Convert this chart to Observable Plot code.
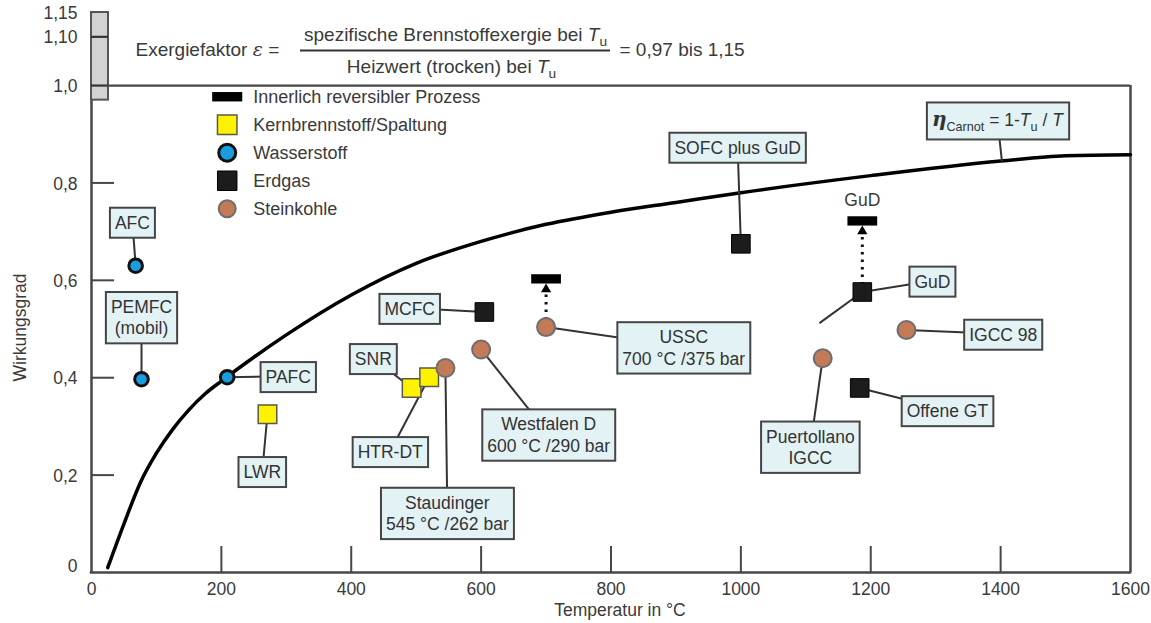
<!DOCTYPE html>
<html>
<head>
<meta charset="utf-8">
<script src="https://cdn.jsdelivr.net/npm/d3@7"></script>
<script src="https://cdn.jsdelivr.net/npm/@observablehq/plot@0.6"></script>
<style>
  html, body { margin: 0; padding: 0; background: #fff; }
</style>
</head>
<body>
<div id="chart"></div>
<script>
// ---------- data ----------
// Technologies: operating temperature (°C) and efficiency
const techNames = ["AFC", "PEMFC\n(mobil)", "PAFC", "LWR", "SNR", "HTR-DT",
  "Staudinger\n545 °C /262 bar", "Westfalen D\n600 °C /290 bar", "USSC\n700 °C /375 bar",
  "MCFC", "SOFC plus GuD", "GuD", "Offene GT", "IGCC 98", "Puertollano\nIGCC"];
const techTemp = [68, 77, 209, 271, 493, 520, 545, 600, 700, 605, 1000, 1187, 1183, 1255, 1126];
const techEff = [0.63, 0.397, 0.401, 0.325, 0.379, 0.401, 0.42, 0.458, 0.504, 0.535, 0.675, 0.576, 0.379, 0.498, 0.44];
const techFuel = ["Wasserstoff", "Wasserstoff", "Wasserstoff", "Kernbrennstoff", "Kernbrennstoff", "Kernbrennstoff",
  "Steinkohle", "Steinkohle", "Steinkohle", "Erdgas", "Erdgas", "Erdgas", "Erdgas", "Steinkohle", "Steinkohle"];

// Where each callout box sits (temperature, efficiency)
const calloutTemp = [63, 77, 303, 263, 434, 460, 548, 704, 912, 490, 995, 1295, 1318, 1404, 1107];
const calloutEff = [0.72, 0.525, 0.403, 0.208, 0.44, 0.249, 0.123, 0.284, 0.463, 0.543, 0.874, 0.599, 0.333, 0.49, 0.259];

// Internally reversible process limits above USSC and GuD
const revTemp = [700, 1187];
const revEff = [0.603, 0.722];
const revFrom = [0.504, 0.576];
const revTag = ["", "GuD"];

// Carnot efficiency curve
const carnotTemp = [25, 50, 75, 100, 125, 150, 175, 200, 250, 300, 400, 500, 600, 700, 800, 900, 1000, 1200, 1400, 1500, 1600];
const carnotEff = [0.01, 0.1, 0.184, 0.245, 0.294, 0.334, 0.367, 0.393, 0.442, 0.488, 0.57, 0.635, 0.68, 0.715, 0.74, 0.76, 0.78, 0.815, 0.845, 0.856, 0.858];
const carnotLabel = "*η*_{Carnot} = 1-*T*_{u} / *T*";
const carnotLabelAt = [1395, 0.93];
const carnotLabelHook = [1402, 0.845];

// Extra leader stub below the GuD point
const gudStub = [[1187, 0.576], [1121, 0.512]];

// Exergy factor range
const exergyRange = [0.97, 1.15];

// Axes
const xTicks = [0, 200, 400, 600, 800, 1000, 1200, 1400, 1600];
const xInnerTicks = [200, 400, 600, 800, 1000, 1200, 1400];
const yTickValues = [0, 0.2, 0.4, 0.6, 0.8, 1.0, 1.1, 1.15];
const yTickLabels = ["0", "0,2", "0,4", "0,6", "0,8", "1,0", "1,10", "1,15"];
const yInnerTicks = [0.2, 0.4, 0.6, 0.8];
const xTitle = "Temperatur in °C";
const yTitle = "Wirkungsgrad";

// Formula at the top
const formulaLead = "Exergiefaktor *ε* =";
const formulaNum = "spezifische Brennstoffexergie bei *T*_{u}";
const formulaDen = "Heizwert (trocken) bei *T*_{u}";
const formulaTail = "= 0,97 bis 1,15";

// Legend
const legendKeys = ["rev", "Kernbrennstoff", "Wasserstoff", "Erdgas", "Steinkohle"];
const legendNames = ["Innerlich reversibler Prozess", "Kernbrennstoff/Spaltung", "Wasserstoff", "Erdgas", "Steinkohle"];

// ---------- layout & style ----------
const W = 1151, H = 623;
const mL = 91, mR = 21, mT = 12, mB = 51;
const frameW = W - mL - mR, frameH = H - mT - mB;
const FONT = "'Liberation Sans', Arial, sans-serif";
const INK = "#3a3a3a";
const AXIS = "#474747";

const fuelStyle = {
  Kernbrennstoff: {symbol: "square", fill: "#fff200", stroke: "#5a5a48", strokeWidth: 1.5, r: 10.5},
  Wasserstoff: {symbol: "circle", fill: "#1a9ddf", stroke: "#111", strokeWidth: 3, r: 6.8},
  Erdgas: {symbol: "square", fill: "#1c1c1c", stroke: "#000", strokeWidth: 1, r: 10.5},
  Steinkohle: {symbol: "circle", fill: "#c27a57", stroke: "#6e6e6e", strokeWidth: 2, r: 9}
};

// black bar glyph for the reversible-process limit
const barSymbol = {
  draw(context, size) {
    const r = Math.sqrt(size / Math.PI);
    context.rect(-1.6 * r, -0.5 * r, 3.2 * r, r);
  }
};

// ---------- tables ----------
const tech = techNames.map((name, i) => ({
  name, T: techTemp[i], eta: techEff[i], fuel: techFuel[i], lx: calloutTemp[i], ly: calloutEff[i]
}));
const rev = revTemp.map((T, i) => ({T, eta: revEff[i], from: revFrom[i], tag: revTag[i]}));
const carnot = carnotTemp.map((T, i) => ({T, eta: carnotEff[i]}));
const callouts = [
  ...tech.map(d => ({text: d.name, x: d.lx, y: d.ly})),
  {text: carnotLabel, x: carnotLabelAt[0], y: carnotLabelAt[1]}
];
const leaders = [
  ...tech.map(d => ({x1: d.T, y1: d.eta, x2: d.lx, y2: d.ly})),
  {x1: carnotLabelHook[0], y1: carnotLabelHook[1], x2: carnotLabelAt[0], y2: carnotLabelAt[1]},
  {x1: gudStub[0][0], y1: gudStub[0][1], x2: gudStub[1][0], y2: gudStub[1][1]}
];
const legendTop = 0.977, legendStep = 0.0575, legendX = 209;
const legend = legendKeys.map((key, i) => ({key, name: legendNames[i], x: legendX, y: legendTop - i * legendStep}));
const yTicks = yTickValues.map((v, i) => ({v, label: yTickLabels[i]}));

const fuelDots = Object.keys(fuelStyle).map(f =>
  Plot.dot(tech.filter(d => d.fuel === f), {x: "T", y: "eta", ...fuelStyle[f]})
);
const legendDots = Object.keys(fuelStyle).map(f =>
  Plot.dot(legend.filter(d => d.key === f), {x: "x", y: "y", ...fuelStyle[f],
    r: fuelStyle[f].symbol === "square" ? 11 : 8.5})
);
const topText = {frameAnchor: "top-left", lineAnchor: "middle", fontSize: 19, fill: INK, text: d => d};

const svg = Plot.plot({
  width: W, height: H,
  marginLeft: mL, marginRight: mR, marginTop: mT, marginBottom: mB,
  style: {fontFamily: FONT, fontSize: "17.5px", color: INK, background: "#fff", overflow: "visible"},
  x: {domain: [0, 1600], axis: null},
  y: {domain: [0, 1.15], axis: null},
  marks: [
    // frame
    Plot.ruleY([1], {x1: 0, x2: 1600, stroke: AXIS, strokeWidth: 2.2}),
    Plot.ruleY([0], {x1: 0, x2: 1600, stroke: AXIS, strokeWidth: 2.5, strokeLinecap: "square"}),
    Plot.ruleX([0], {y1: 0, y2: 1.15, stroke: AXIS, strokeWidth: 2.5}),
    Plot.ruleX([1600], {y1: 0, y2: 1, stroke: AXIS, strokeWidth: 2.5}),
    // inward ticks
    Plot.ruleX(xInnerTicks, {x: d => d, stroke: AXIS, strokeWidth: 2, insetTop: frameH - 26}),
    Plot.ruleY(yInnerTicks, {y: d => d, stroke: AXIS, strokeWidth: 2, insetRight: frameW - 23}),
    // exergy-factor band
    Plot.rect([exergyRange], {y1: d => d[0], y2: d => d[1], insetRight: frameW - 17,
      fill: "#d2d2d2", stroke: "#555", strokeWidth: 2}),
    Plot.ruleY([1, 1.1], {y: d => d, insetRight: frameW - 17, stroke: "#333", strokeWidth: 2.2}),

    // Carnot curve
    Plot.line(carnot, {x: "T", y: "eta", curve: "monotone-x", stroke: "#000", strokeWidth: 3.5}),

    // leader lines
    Plot.link(leaders, {x1: "x1", y1: "y1", x2: "x2", y2: "y2", stroke: "#333", strokeWidth: 2}),
    // dotted rise to the reversible limit
    Plot.link(rev, {x1: "T", y1: "from", x2: "T", y2: "eta", stroke: "#111",
      strokeWidth: 3, strokeDasharray: "2.5,5"}),

    ...fuelDots,

    // reversible limits: bar + arrow head
    Plot.dot(rev, {x: "T", y: "eta", symbol: barSymbol, r: 9.3, fill: "#000"}),
    Plot.dot(rev, {x: "T", y: "eta", symbol: "triangle", r: 3.8, fill: "#000", dy: 10.5}),
    Plot.text(rev.filter(d => d.tag), {x: "T", y: "eta", text: "tag", dy: -21, fill: INK}),

    // legend
    Plot.dot(legend.filter(d => d.key === "rev"), {x: "x", y: "y", symbol: barSymbol, r: 9.4, fill: "#000"}),
    ...legendDots,
    Plot.text(legend, {x: "x", y: "y", text: "name", textAnchor: "start", dx: 26, fontSize: 18, fill: INK}),

    // tick labels
    Plot.text(xTicks, {x: d => d, y: 0, text: d => String(d), dy: 17, fill: INK}),
    Plot.text(yTicks.filter(d => d.v > 0), {x: 0, y: "v", text: "label", textAnchor: "end", dx: -14, dy: 1, fill: INK}),
    Plot.text(yTicks.filter(d => d.v === 0), {x: 0, y: "v", text: "label", textAnchor: "end", dx: -14, dy: -6, fill: INK}),

    // axis titles
    Plot.text([xTitle], {text: d => d, frameAnchor: "bottom", lineAnchor: "middle", textAnchor: "middle", dx: 9, dy: 38, fill: INK}),
    Plot.text([yTitle], {text: d => d, frameAnchor: "left", lineAnchor: "middle", textAnchor: "middle", rotate: -90, dx: -71, dy: 35, fill: INK}),

    // formula
    Plot.text([formulaLead], {...topText, textAnchor: "start", dx: 44, dy: 37}),
    Plot.text([formulaNum], {...topText, textAnchor: "middle", dx: 364, dy: 22}),
    Plot.text([formulaDen], {...topText, textAnchor: "middle", dx: 360, dy: 54}),
    Plot.ruleY([1.15], {dy: 38, insetLeft: 209, insetRight: 520, stroke: "#333", strokeWidth: 2}),
    Plot.text([formulaTail], {...topText, textAnchor: "start", dx: 528, dy: 37}),

    // callout texts (boxes are added behind them below)
    Plot.text(callouts, {x: "x", y: "y", text: "text", lineHeight: 1.22, fill: "#333"})
  ]
});

document.getElementById("chart").append(svg);

// ---------- rich text: *italic* and _{subscript} ----------
const NS = "http://www.w3.org/2000/svg";
const SUB = 5;
function richify(el) {
  const s = el.textContent;
  if (!/\*|_\{/.test(s)) return;
  const parts = s.split(/(\*[^*]+\*|_\{[^}]+\})/).filter(p => p !== "");
  el.textContent = "";
  let shifted = false;
  for (const p of parts) {
    const t = document.createElementNS(NS, "tspan");
    if (p.startsWith("_{")) {
      t.textContent = p.slice(2, -1);
      t.style.fontSize = "0.72em";
      t.setAttribute("dy", SUB);
      shifted = true;
    } else {
      if (p.startsWith("*")) {
        t.textContent = p.slice(1, -1);
        t.style.fontStyle = "italic";
        if (/[α-ω]/.test(t.textContent)) {
          t.style.fontFamily = "'DejaVu Serif', serif";
          if (t.textContent === "η") { t.style.fontWeight = "bold"; t.style.fontSize = "1.15em"; }
        }
      } else {
        t.textContent = p;
      }
      if (shifted) { t.setAttribute("dy", -SUB); shifted = false; }
    }
    el.append(t);
  }
}
Array.from(svg.querySelectorAll("text, tspan"))
  .filter(el => el.children.length === 0)
  .forEach(richify);

// ---------- callout boxes ----------
// the callout mark is the group holding the "AFC" text
const padX = 5, padY = 5;
const anchorText = Array.from(svg.querySelectorAll("text")).find(t => t.textContent === "AFC");
if (anchorText) {
  anchorText.parentNode.querySelectorAll(":scope > text").forEach(t => {
    const b = t.getBBox();
    const r = document.createElementNS(NS, "rect");
    r.setAttribute("x", b.x - padX);
    r.setAttribute("y", b.y - padY);
    r.setAttribute("width", b.width + 2 * padX);
    r.setAttribute("height", b.height + 2 * padY);
    r.setAttribute("fill", "#e3f2f5");
    r.setAttribute("stroke", "#454545");
    r.setAttribute("stroke-width", 2);
    const tr = t.getAttribute("transform");
    if (tr) r.setAttribute("transform", tr);
    t.before(r);
  });
}
</script>
</body>
</html>
